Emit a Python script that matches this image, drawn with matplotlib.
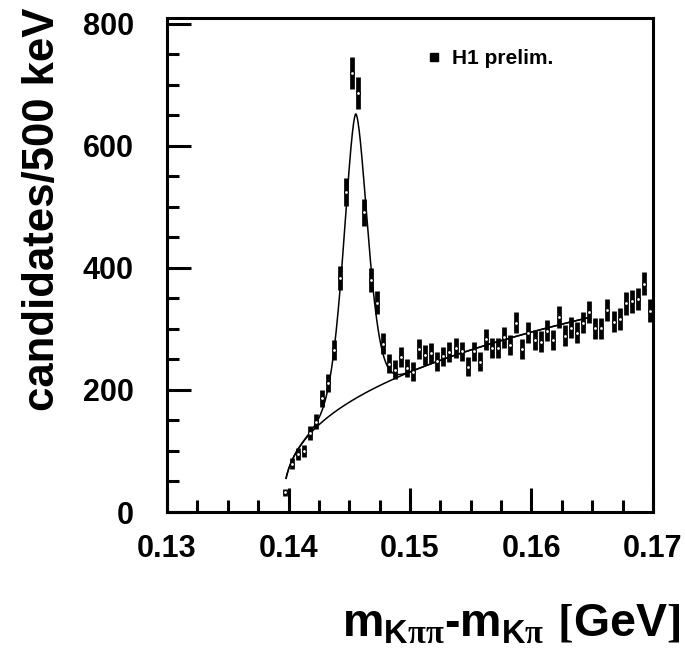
import numpy as np
import matplotlib
matplotlib.use("Agg")
import matplotlib.pyplot as plt
from matplotlib.lines import Line2D

plt.rcParams['font.family'] = ['Liberation Sans', 'DejaVu Sans']
plt.rcParams['font.weight'] = 'bold'
plt.rcParams['mathtext.fontset'] = 'custom'
plt.rcParams['mathtext.rm'] = 'Liberation Serif'
plt.rcParams['mathtext.it'] = 'Liberation Sans:bold'
plt.rcParams['mathtext.bf'] = 'Liberation Sans:bold'

# ---- data (500 keV bins) ----
bin_start = 0.1395
bin_width = 0.0005
counts = [32, 79, 95, 100, 129, 148, 186, 211, 266,
          384, 524, 719, 686, 491, 380, 343,
          276, 243, 233, 254, 236, 230, 267, 257, 261, 247,
          255, 262, 269, 263, 238, 263, 246, 283, 269, 268,
          286, 274, 310, 267, 294, 282, 279, 297, 282, 319,
          289, 302, 294, 310, 327, 301, 301, 331, 312, 316,
          342, 345, 349, 374, 330]

# ---- fit parameters ----
fit_lo, fit_hi = 0.1398, 0.1646
m_pi = 0.13957
sig_peak = 0.14553
sig_amp = 466.0
sig_width = 0.000928
sig_power = 1.7
bkg_norm = 1258.0
bkg_exp = 0.373

x_ticks = [0.13, 0.14, 0.15, 0.16, 0.17]
x_ticklabels = ['0.13', '0.14', '0.15', '0.16', '0.17']
y_ticks = [0, 200, 400, 600, 800]
y_ticklabels = ['0', '200', '400', '600', '800']

counts = np.array(counts, dtype=float)
xc = bin_start + bin_width * (np.arange(len(counts)) + 0.5)
err = np.sqrt(counts)

W, H = 685, 656
fig = plt.figure(figsize=(W / 100, H / 100), dpi=100)
ax = fig.add_axes([167 / W, 1 - 512 / H, (653 - 167) / W, (512 - 17.5) / H])

def bkg(x):
    return bkg_norm * np.clip(x - m_pi, 0, None) ** bkg_exp

def sig(x):
    z = np.abs(x - sig_peak) / sig_width
    return sig_amp * np.exp(-0.5 * z ** sig_power)

xf = np.linspace(fit_lo, fit_hi, 800)
ax.plot(xf, bkg(xf) + sig(xf), color='black', lw=1.1, zorder=2)
ax.plot(xf, bkg(xf), color='black', lw=1.1, zorder=2)

ax.errorbar(xc, counts, yerr=err, fmt='o', color='black', ecolor='black',
            elinewidth=3.4, capsize=0, markersize=2.8, markerfacecolor='white',
            markeredgecolor='black', markeredgewidth=0.8, zorder=3)

ax.set_xlim(0.13, 0.17)
ax.set_ylim(0, 810)
ax.set_xticks(x_ticks)
ax.set_xticklabels(x_ticklabels)
ax.set_yticks(y_ticks)
ax.set_yticklabels(y_ticklabels)
ax.set_xticks(np.arange(0.13, 0.1701, 0.0025), minor=True)
ax.set_yticks(np.arange(0, 801, 50), minor=True)

for s in ax.spines.values():
    s.set_linewidth(2.2)
ax.tick_params(which='major', direction='in', length=17, width=2.2,
               labelsize=22, top=False, right=False)
ax.tick_params(which='minor', direction='in', length=8.6, width=2.2,
               top=False, right=False)
ax.tick_params(axis='y', which='major', pad=24)
ax.tick_params(axis='x', which='major', pad=16)
for lab in ax.get_xticklabels() + ax.get_yticklabels():
    lab.set_fontweight('bold')

handle = Line2D([], [], marker='s', color='black', linestyle='none', markersize=6)
ax.legend([handle], ['H1 prelim.'], loc='upper left',
          bbox_to_anchor=((415 - 167) / (653 - 167), 1 - (39 - 17.5) / (512 - 17.5)),
          frameon=False, prop={'size': 15, 'weight': 'bold'},
          handlelength=0.8, handletextpad=0.5, borderpad=0)

fig.text(43 / W, 1 - 209 / H, 'candidates/500 keV', rotation=90,
         ha='center', va='center', fontsize=31.5, fontweight='bold')
fig.text(511 / W, 1 - 625 / H,
         r'$\mathbf{m}_{\mathbf{K}\mathrm{\pi\pi}}\mathbf{‐m}_{\mathbf{K}\mathrm{\pi}}\ \mathrm{[}\mathbf{GeV}\mathrm{]}$',
         ha='center', va='center', fontsize=33.5)

fig.savefig('out.png', dpi=100)
